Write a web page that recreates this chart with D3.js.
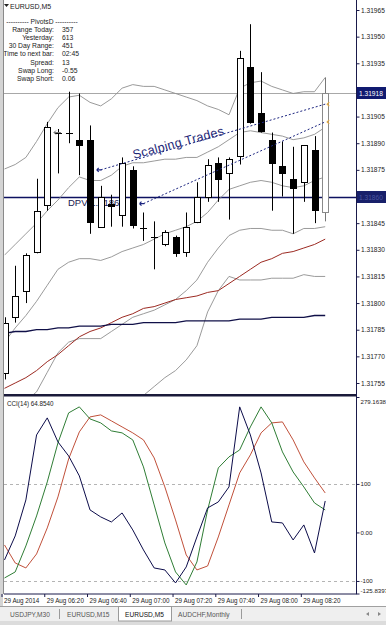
<!DOCTYPE html>
<html>
<head>
<meta charset="utf-8">
<script src="https://cdn.jsdelivr.net/npm/d3@7/dist/d3.min.js"></script>
<style>
  html, body { margin: 0; padding: 0; background: #fff; }
  svg { display: block; font-family: "Liberation Sans", Arial, sans-serif; }
</style>
</head>
<body>
<div id="chart"></div>
<script>
// EURUSD M5 chart with bands, MAs, trade lines and CCI panel

const times = ['06:00','06:05','06:10','06:15','06:20','06:25','06:30','06:35','06:40','06:45',
  '06:50','06:55','07:00','07:05','07:10','07:15','07:20','07:25','07:30','07:35',
  '07:40','07:45','07:50','07:55','08:00','08:05','08:10','08:15','08:20','08:25','08:30'];

const opens  = [1.31761,1.31792,1.31807,1.31829,1.31855,1.31896,1.31896,1.31892,1.31892,1.31843,
  1.31856,1.31850,1.31875,1.31842,1.31837,1.31833,1.31837,1.31829,1.31846,1.31860,
  1.31879,1.31873,1.31883,1.31933,1.31907,1.31892,1.31877,1.31870,1.31868,1.31886,1.31851];
const highs  = [1.31792,1.31821,1.31828,1.31870,1.31902,1.31898,1.31919,1.31918,1.31900,1.31866,
  1.31861,1.31882,1.31877,1.31851,1.31846,1.31841,1.31838,1.31851,1.31868,1.31881,
  1.31882,1.31882,1.31942,1.31957,1.31930,1.31896,1.31891,1.31888,1.31889,1.31894,1.31927];
const lows   = [1.31757,1.31789,1.31800,1.31828,1.31852,1.31873,1.31890,1.31872,1.31839,1.31843,
  1.31843,1.31843,1.31842,1.31835,1.31819,1.31832,1.31826,1.31826,1.31845,1.31857,
  1.31857,1.31847,1.31878,1.31901,1.31896,1.31852,1.31860,1.31839,1.31857,1.31845,1.31846];
const closes = [1.31789,1.31804,1.31827,1.31852,1.31899,1.31896,1.31896,1.31889,1.31846,1.31860,
  1.31855,1.31879,1.31844,1.31842,1.31837,1.31840,1.31828,1.31843,1.31860,1.31878,
  1.31870,1.31881,1.31938,1.31902,1.31897,1.31879,1.31873,1.31865,1.31889,1.31852,1.31918];

// bands (gray)
const bandTop    = [1.318755,1.31878,1.31882,1.31891,1.31901,1.31910,1.31916,1.31917,1.31913,1.31911,
  1.31915,1.31921,1.31923,1.31922,1.31922,1.31920,1.31918,1.31916,1.31914,1.31911,
  1.31909,1.31906,1.31921,1.31924,1.31925,1.31922,1.31920,1.31918,1.31919,1.31919,1.31927];
const bandUpper  = [1.31827,1.31833,1.31839,1.31845,1.31852,1.31858,1.31865,1.31871,1.31869,1.31869,
  1.31872,1.31877,1.31879,1.31879,1.31880,1.31881,1.31881,1.31882,1.31882,1.31885,
  1.31888,1.31892,1.31896,1.31897,1.31896,1.31895,1.31894,1.31892,1.31893,1.31895,1.31899];
const bandMid    = [1.31778,1.31786,1.31793,1.31801,1.31810,1.31819,1.31823,1.31825,1.31825,1.31824,
  1.31826,1.31829,1.31831,1.31833,1.31836,1.31839,1.31841,1.31843,1.31846,1.31851,
  1.31858,1.31864,1.31866,1.31868,1.31869,1.31868,1.31866,1.31865,1.31866,1.31869,1.31871];
const bandLower  = [1.31728,1.31739,1.31745,1.31750,1.31761,1.31772,1.31778,1.31780,1.31780,1.31780,
  1.31784,1.31788,1.31792,1.31794,1.31796,1.31799,1.31802,1.31807,1.31813,1.31823,
  1.31831,1.31838,1.31841,1.31842,1.31842,1.31841,1.31841,1.31839,1.31842,1.31842,1.31843];
const bandBottom = [1.31680,1.31689,1.31698,1.31712,1.31726,1.31740,1.31739,1.31734,1.31731,1.31731,
  1.31734,1.31736,1.31743,1.31748,1.31753,1.31758,1.31762,1.31768,1.31776,1.31795,
  1.31807,1.31815,1.31813,1.31813,1.31813,1.31814,1.31814,1.31814,1.31816,1.31815,1.31815];

const maRed  = [1.31752,1.31755,1.31758,1.31762,1.31767,1.31771,1.31776,1.31781,1.31784,1.31786,
  1.31789,1.31792,1.31794,1.31797,1.31798,1.31800,1.31802,1.31803,1.31804,1.31806,
  1.31807,1.31811,1.31815,1.31819,1.31823,1.31825,1.31828,1.31829,1.31831,1.31833,1.31836];
const maBlue = [1.31783,1.31784,1.31784,1.31785,1.31785,1.31786,1.31786,1.31787,1.31787,1.31787,
  1.31788,1.31788,1.31788,1.31789,1.31789,1.31789,1.31789,1.31790,1.31790,1.31790,
  1.31790,1.31790,1.31791,1.31791,1.31791,1.31792,1.31792,1.31792,1.31792,1.31793,1.31793];

// CCI panel
const cciBlue  = [-56.7,-7.2,67.0,201.0,236.1,186.6,157.7,116.5,46.4,32.0,21.6,40.2,5.2,-36.1,-73.2,
  -77.3,-104.1,-71.1,-9.3,50.5,62.9,93.8,258.8,201.0,122.7,21.6,19.6,-15.5,15.5,-42.3,64.854];
const cciGreen = [-93.8,-81.4,-27.8,34.0,104.1,184.5,246.4,258.8,234.0,225.8,209.3,205.2,190.7,135.1,56.7,
  -21.6,-81.4,-108.2,-60.8,46.4,133.0,155.7,170.1,217.5,258.8,225.8,166.0,124.7,93.8,60.8,46.4];
const cciRed   = [-25.8,-62.9,-73.2,-44.3,9.3,73.2,151.5,207.2,238.1,242.3,229.9,217.5,205.2,190.7,153.6,
  93.8,25.8,-46.4,-77.3,-69.1,-9.3,56.7,122.7,159.8,205.2,225.8,227.8,190.7,145.4,112.4,81.4];
const cciTicks = [279.1638, 100, 0, -100, -125.8397];
const cciTickLabels = ['279.1638', '100', '0.00', '-100', '-125.8397'];

const priceTicks = [1.31965,1.31950,1.31935,1.31920,1.31905,1.31890,1.31875,
  1.31845,1.31830,1.31815,1.31800,1.31785,1.31770,1.31755];
const bidPrice = 1.31918;
const dpvPrice = 1.31860;

const dateTimes  = ['06:00','06:20','06:40','07:00','07:20','07:40','08:00','08:20'];
const dateLabels = ['29 Aug 2014','29 Aug 06:20','29 Aug 06:40','29 Aug 07:00',
  '29 Aug 07:20','29 Aug 07:40','29 Aug 08:00','29 Aug 08:20'];

// trades drawn as dotted lines
const tradeOpenTime   = ['06:45','07:05'];
const tradeOpenPrice  = [1.31875, 1.31856];
const tradeCloseTime  = ['08:30','08:30'];
const tradeClosePrice = [1.31912, 1.31902];

const infoLabels = ['Range Today:','Yesterday:','30 Day Range:','Time to next bar:','Spread:','Swap  Long:','Swap  Short:'];
const infoValues = ['357','613','451','02:45','13','-0.55','0.06'];
const tabNames = ['USDJPY,M30','EURUSD,M15','EURUSD,M5','AUDCHF,Monthly'];

const W = 386, H = 625;
const plotL = 4, plotR = 356;
const mainBot = 394, cciTop = 397, cciBot = 593.5;
const navy = '#0d1160';
const axisFont = 6.6, smallFont = 6.3;

const svg = d3.select('#chart').append('svg')
  .attr('width', W).attr('height', H)
  .attr('viewBox', [0, 0, W, H]);

const x = d3.scaleLinear().domain([0, times.length - 1]).range([4.5, 325.2]);
const yP = d3.scaleLinear().domain([1.31755, 1.31965]).range([383, 10]);
const yC = d3.scaleLinear().domain([-125.8397, 279.1638]).range([cciBot, cciTop]);
const px = v => Math.round(v) + 0.5;

const defs = svg.append('defs');
defs.append('clipPath').attr('id', 'clipMain')
  .append('rect').attr('x', plotL).attr('y', 0).attr('width', plotR - plotL).attr('height', mainBot);
defs.append('clipPath').attr('id', 'clipCci')
  .append('rect').attr('x', plotL).attr('y', cciTop).attr('width', plotR - plotL).attr('height', cciBot - cciTop);

// ---------- main panel ----------
const main = svg.append('g').attr('clip-path', 'url(#clipMain)');

const priceLine = arr => d3.line().x((d, i) => x(i)).y(d => yP(d))(arr);

// bid + dpv horizontal lines
main.append('line').attr('x1', plotL).attr('x2', plotR)
  .attr('y1', px(yP(bidPrice))).attr('y2', px(yP(bidPrice)))
  .attr('stroke', '#a8a8a8').attr('stroke-width', 1);
main.append('line').attr('x1', plotL).attr('x2', plotR)
  .attr('y1', px(yP(dpvPrice))).attr('y2', px(yP(dpvPrice)))
  .attr('stroke', navy).attr('stroke-width', 1.4);

[bandTop, bandUpper, bandMid, bandLower, bandBottom].forEach(b => {
  main.append('path').attr('d', priceLine(b))
    .attr('fill', 'none').attr('stroke', '#8e8e8e').attr('stroke-width', 0.9);
});
main.append('path').attr('d', priceLine(maRed))
  .attr('fill', 'none').attr('stroke', '#9c2a22').attr('stroke-width', 1);
main.append('path').attr('d', priceLine(maBlue))
  .attr('fill', 'none').attr('stroke', '#101048').attr('stroke-width', 1.3);

// DPV label (candles drawn over it)
main.append('text').attr('x', 68).attr('y', yP(dpvPrice) + 9)
  .attr('font-size', 9.5).attr('fill', '#1a1a50').text('DPV 1.3186');

// candles
const candles = main.append('g').selectAll('g')
  .data(times.map((t, i) => ({ i, o: opens[i], h: highs[i], l: lows[i], c: closes[i] })))
  .join('g');
candles.append('line')
  .attr('x1', d => px(x(d.i))).attr('x2', d => px(x(d.i)))
  .attr('y1', d => yP(d.h)).attr('y2', d => yP(d.l))
  .attr('stroke', d => d.i === times.length - 1 ? '#777' : '#000').attr('stroke-width', 1);
candles.append('rect')
  .attr('x', d => Math.round(x(d.i)) - 2.5)
  .attr('width', 6)
  .attr('y', d => Math.round(yP(Math.max(d.o, d.c))) + 0.5)
  .attr('height', d => Math.max(0.01, Math.round(Math.abs(yP(d.o) - yP(d.c)))))
  .attr('fill', d => d.c >= d.o ? '#fff' : '#000')
  .attr('stroke', d => d.i === times.length - 1 ? '#8a8a8a' : '#000')
  .attr('stroke-width', 1);

// trade lines
const idx = t => times.indexOf(t);
tradeOpenTime.forEach((t, k) => {
  const x1 = x(idx(t)), y1 = yP(tradeOpenPrice[k]);
  const x2 = x(idx(tradeCloseTime[k])), y2 = yP(tradeClosePrice[k]);
  main.append('line').attr('x1', x1).attr('y1', y1).attr('x2', x2).attr('y2', y2)
    .attr('stroke', '#1c2580').attr('stroke-width', 1).attr('stroke-dasharray', '2,2');
  main.append('path')
    .attr('d', `M${x1 - 4},${y1}L${x1 + 1},${y1}M${x1 - 4},${y1}L${x1 - 2},${y1 - 2}M${x1 - 4},${y1}L${x1 - 2},${y1 + 2}`)
    .attr('stroke', '#1c2580').attr('stroke-width', 1.2).attr('fill', 'none');
  main.append('path')
    .attr('d', `M${x2 + 4},${y2 - 2}L${x2 + 2},${y2}L${x2 + 4},${y2 + 2}`)
    .attr('stroke', '#e0a640').attr('stroke-width', 1.2).attr('fill', 'none');
});
// small close arrow at 06:25
const ax = x(idx('06:25')), ay = yP(closes[idx('06:25')]);
main.append('path')
  .attr('d', `M${ax - 4},${ay}L${ax + 3},${ay}M${ax - 4},${ay}L${ax - 2},${ay - 2}M${ax - 4},${ay}L${ax - 2},${ay + 2}`)
  .attr('stroke', '#777').attr('fill', 'none');

main.append('text')
  .attr('transform', 'translate(134,159) rotate(-15)')
  .attr('font-size', 12.5).attr('fill', '#1e2878').attr('letter-spacing', 0.3)
  .text('Scalping Trades');

// info panel
svg.append('path').attr('d', 'M4,4L9,4L6.5,7Z').attr('fill', '#222');
svg.append('text').attr('x', 10).attr('y', 8.5).attr('font-size', 7).attr('fill', '#222').text('EURUSD,M5');
svg.append('text').attr('x', 42).attr('y', 24).attr('text-anchor', 'middle')
  .attr('font-size', 6.7).attr('fill', '#222').text('---------- PivotsD ----------');
infoLabels.forEach((l, i) => {
  const yy = 32.1 + i * 8.1;
  svg.append('text').attr('x', 54).attr('y', yy).attr('text-anchor', 'end')
    .attr('font-size', 6.8).attr('fill', '#222').text(l);
  svg.append('text').attr('x', 62).attr('y', yy)
    .attr('font-size', 6.8).attr('fill', '#222').text(infoValues[i]);
});

// ---------- CCI panel ----------
const cci = svg.append('g').attr('clip-path', 'url(#clipCci)');
[100, -100].forEach(v => {
  cci.append('line').attr('x1', plotL).attr('x2', plotR)
    .attr('y1', px(yC(v))).attr('y2', px(yC(v)))
    .attr('stroke', '#b4b4b4').attr('stroke-dasharray', '3,3');
});
const cciLine = d3.line().x((d, i) => x(i)).y(d => yC(d));
[[cciRed, '#c0503a'], [cciGreen, '#2f7d35'], [cciBlue, '#0c0c4a']].forEach(([arr, col]) => {
  cci.append('path').attr('d', cciLine(arr))
    .attr('fill', 'none').attr('stroke', col).attr('stroke-width', 1);
});
svg.append('text').attr('x', 7).attr('y', 406).attr('font-size', smallFont).attr('fill', '#222')
  .text('CCI(14) ' + cciBlue[cciBlue.length - 1].toFixed(4));

// ---------- frames and axes ----------
svg.append('rect').attr('x', 0).attr('y', 0).attr('width', 3).attr('height', 606).attr('fill', '#d4d4d4');
svg.append('line').attr('x1', 3.5).attr('x2', 3.5).attr('y1', 0).attr('y2', 594)
  .attr('stroke', '#8a8a8a');
svg.append('rect').attr('x', plotL).attr('y', mainBot).attr('width', plotR - plotL + 1).attr('height', 2.5)
  .attr('fill', '#1a1a3a');
svg.append('line').attr('x1', plotR + 0.5).attr('x2', plotR + 0.5).attr('y1', 0).attr('y2', cciBot + 0.5)
  .attr('stroke', '#1a1a4a').attr('stroke-width', 1);
svg.append('line').attr('x1', plotL).attr('x2', plotR + 1).attr('y1', cciBot + 0.5).attr('y2', cciBot + 0.5)
  .attr('stroke', '#1a1a4a').attr('stroke-width', 1);

const pAxis = svg.append('g').attr('transform', `translate(${plotR + 0.5},0)`)
  .call(d3.axisRight(yP).tickValues(priceTicks).tickSize(3).tickPadding(1.5).tickFormat(d3.format('.5f')));
pAxis.select('.domain').remove();
pAxis.selectAll('text').attr('font-size', axisFont).attr('fill', '#222').attr('font-family', '"Liberation Sans", Arial');
pAxis.selectAll('line').attr('stroke', '#1a1a4a');

// price boxes on the axis
const boxes = [[bidPrice, '#101a70', '#fff'], [dpvPrice, '#18206a', '#4b55a0']];
boxes.forEach(([p, bg, fg]) => {
  const yy = Math.round(yP(p));
  svg.append('rect').attr('x', plotR + 1).attr('y', yy - 6).attr('width', W - plotR - 1).attr('height', 12).attr('fill', bg);
  svg.append('text').attr('x', plotR + 3).attr('y', yy + 2.5).attr('font-size', axisFont).attr('fill', fg)
    .text(d3.format('.5f')(p));
});

const cAxis = svg.append('g').attr('transform', `translate(${plotR + 0.5},0)`)
  .call(d3.axisRight(yC).tickValues(cciTicks).tickSize(3).tickPadding(1)
    .tickFormat((d, i) => cciTickLabels[i]));
cAxis.select('.domain').remove();
cAxis.selectAll('text').attr('font-size', 6.1).attr('fill', '#222').attr('font-family', '"Liberation Sans", Arial')
  .attr('dy', (d, i) => i === 0 ? '1.05em' : (i === cciTicks.length - 1 ? '-0.15em' : '0.32em'));
cAxis.selectAll('line').attr('stroke', '#1a1a4a');

const dAxis = svg.append('g').attr('transform', `translate(-3,${cciBot + 0.5})`)
  .call(d3.axisBottom(x).tickValues(dateTimes.map(idx)).tickSize(3).tickPadding(2)
    .tickFormat((d, i) => dateLabels[i]));
dAxis.select('.domain').remove();
dAxis.selectAll('text').attr('font-size', smallFont).attr('fill', '#222').attr('text-anchor', 'start')
  .attr('dx', 2).attr('font-family', '"Liberation Sans", Arial');
dAxis.selectAll('line').attr('stroke', '#1a1a4a');

// ---------- tabs ----------
svg.append('rect').attr('x', 0).attr('y', 606).attr('width', W).attr('height', 19).attr('fill', '#efefef');
svg.append('line').attr('x1', 0).attr('x2', W).attr('y1', 606.5).attr('y2', 606.5).attr('stroke', '#a0a0a0');
svg.append('rect').attr('x', 0).attr('y', 621).attr('width', W).attr('height', 4).attr('fill', '#dcdcdc');
const tabX = [10, 67, 125, 178];
svg.append('rect').attr('x', 118.5).attr('y', 606.5).attr('width', 53).attr('height', 14.5)
  .attr('fill', '#fff').attr('stroke', '#9a9a9a');
tabNames.forEach((t, i) => {
  svg.append('text').attr('x', tabX[i]).attr('y', 616.5).attr('font-size', 6.6)
    .attr('fill', i === 2 ? '#111' : '#555').text(t);
});
[59.5, 241.5].forEach(sx => {
  svg.append('line').attr('x1', sx).attr('x2', sx).attr('y1', 609).attr('y2', 619).attr('stroke', '#9a9a9a');
});
svg.append('path').attr('d', 'M366,614L369,612L369,616Z').attr('fill', '#888');
svg.append('path').attr('d', 'M381,614L378,612L378,616Z').attr('fill', '#888');
</script>
</body>
</html>
